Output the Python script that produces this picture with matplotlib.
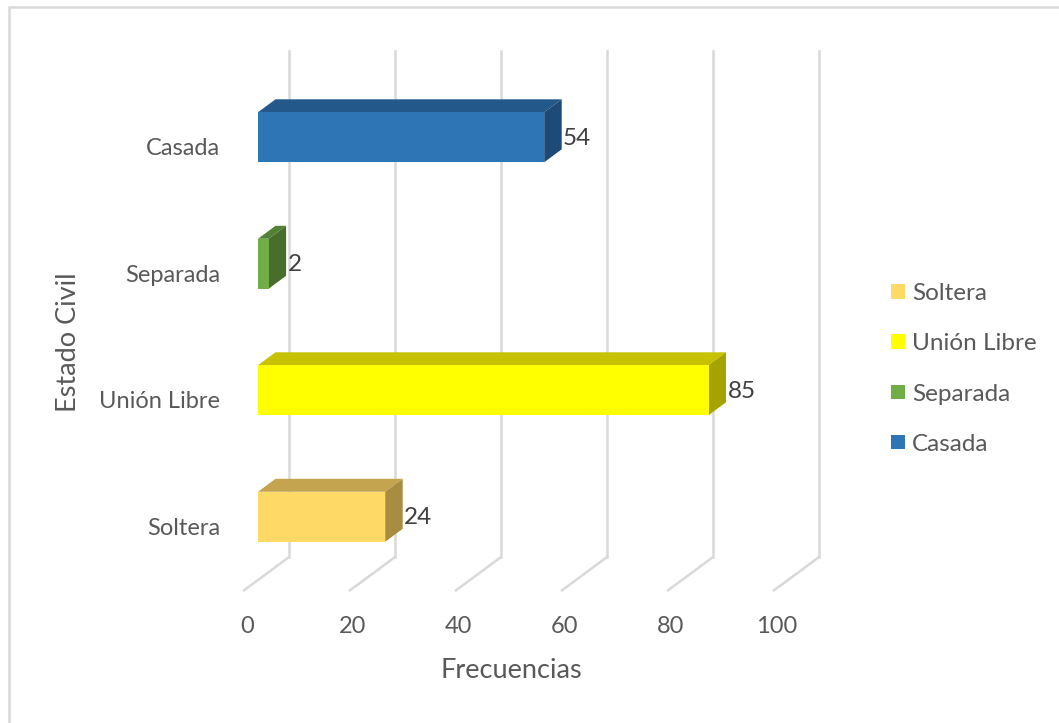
import matplotlib
matplotlib.use("Agg")
import matplotlib.pyplot as plt
from matplotlib.patches import Polygon, Rectangle, Patch

plt.rcParams['font.family'] = ['Lato', 'DejaVu Sans']

categories = ["Soltera", "Unión Libre", "Separada", "Casada"]
values = [24, 85, 2, 54]
ticks = [0, 20, 40, 60, 80, 100]
front_colors = ["#FFD966", "#FFFF00", "#70AD47", "#2E75B6"]
top_colors = ["#C4A44E", "#C6C200", "#548235", "#22588A"]
side_colors = ["#A88C40", "#A6A300", "#476E2B", "#1D4A77"]

W, H = 1059, 723
fig = plt.figure(figsize=(W / 100, H / 100), dpi=100)
fig.patch.set_facecolor("white")

# outer border
fig.patches.append(Rectangle((9 / W, -0.1), 1.2, 1 - 7 / H + 0.1, transform=fig.transFigure,
                             fill=False, edgecolor="#D9D9D9", linewidth=1.8))

ax = fig.add_axes([258 / W, (H - 580) / H, 530 / W, (580 - 74) / H])
ax.set_xlim(0, 100)
ax.set_ylim(-0.5, 3.5)
ax.axis("off")

px_x = 530 / 100.0          # pixels per x unit
px_y = (580 - 74) / 4.0     # pixels per category unit
slope = 0.74


def off(d):
    """offset in data units for a depth of d pixels"""
    return d / px_x, slope * d / px_y


grid_c = "#D9D9D9"
wx, wy = off(31)
fx, fy = off(-14)
for t in ticks:
    ax.plot([t + wx, t + wx], [-0.5 + wy, 3.5 + wy], color=grid_c, lw=1.8, clip_on=False, zorder=1)
    ax.plot([t + fx, t + wx], [-0.5 + fy, -0.5 + wy], color=grid_c, lw=1.8, clip_on=False, zorder=1)
    ax.annotate(str(t), (t + fx, -0.5 + fy), xytext=(2, -36 * 0.72), textcoords="offset points",
                ha="center", va="center", fontsize=17, color="#595959", annotation_clip=False)

bh = 50 / px_y
bx, by = off(17.5)
for i, (cat, v) in enumerate(zip(categories, values)):
    y0, y1 = i - bh / 2, i + bh / 2
    ax.barh(i, v, height=bh, left=0, color=front_colors[i], zorder=4, linewidth=0)
    top = Polygon([(0, y1), (v, y1), (v + bx, y1 + by), (bx, y1 + by)], closed=True,
                  facecolor=top_colors[i], edgecolor="none", zorder=3, clip_on=False)
    side = Polygon([(v, y0), (v, y1), (v + bx, y1 + by), (v + bx, y0 + by)], closed=True,
                   facecolor=side_colors[i], edgecolor="none", zorder=3, clip_on=False)
    ax.add_patch(top)
    ax.add_patch(side)
    ax.annotate(str(v), (v + bx, i), xytext=(1, -1 * 0.72), textcoords="offset points",
                ha="left", va="center", fontsize=17.5, color="#404040", annotation_clip=False)
    ax.annotate(cat, (fx, i + fy), xytext=(-24 * 0.72, -1 * 0.72), textcoords="offset points",
                ha="right", va="center", fontsize=17, color="#595959", annotation_clip=False)

fig.text(511 / W, 1 - 670 / H, "Frecuencias", ha="center", va="center", fontsize=19.5, color="#595959")
fig.text(69 / W, 1 - 342 / H, "Estado Civil", ha="center", va="center", rotation=90,
         fontsize=19.5, color="#595959")

handles = [Patch(facecolor=c, edgecolor="none", label=l) for c, l in zip(front_colors, categories)]
leg = fig.legend(handles=handles, loc="center left", bbox_to_anchor=(879 / W, 1 - 369 / H),
                 frameon=False, fontsize=17.5, handlelength=0.55, handleheight=0.55,
                 handletextpad=0.3, labelspacing=1.2, borderpad=0)
for t in leg.get_texts():
    t.set_color("#595959")

fig.savefig("out.png", dpi=100)
